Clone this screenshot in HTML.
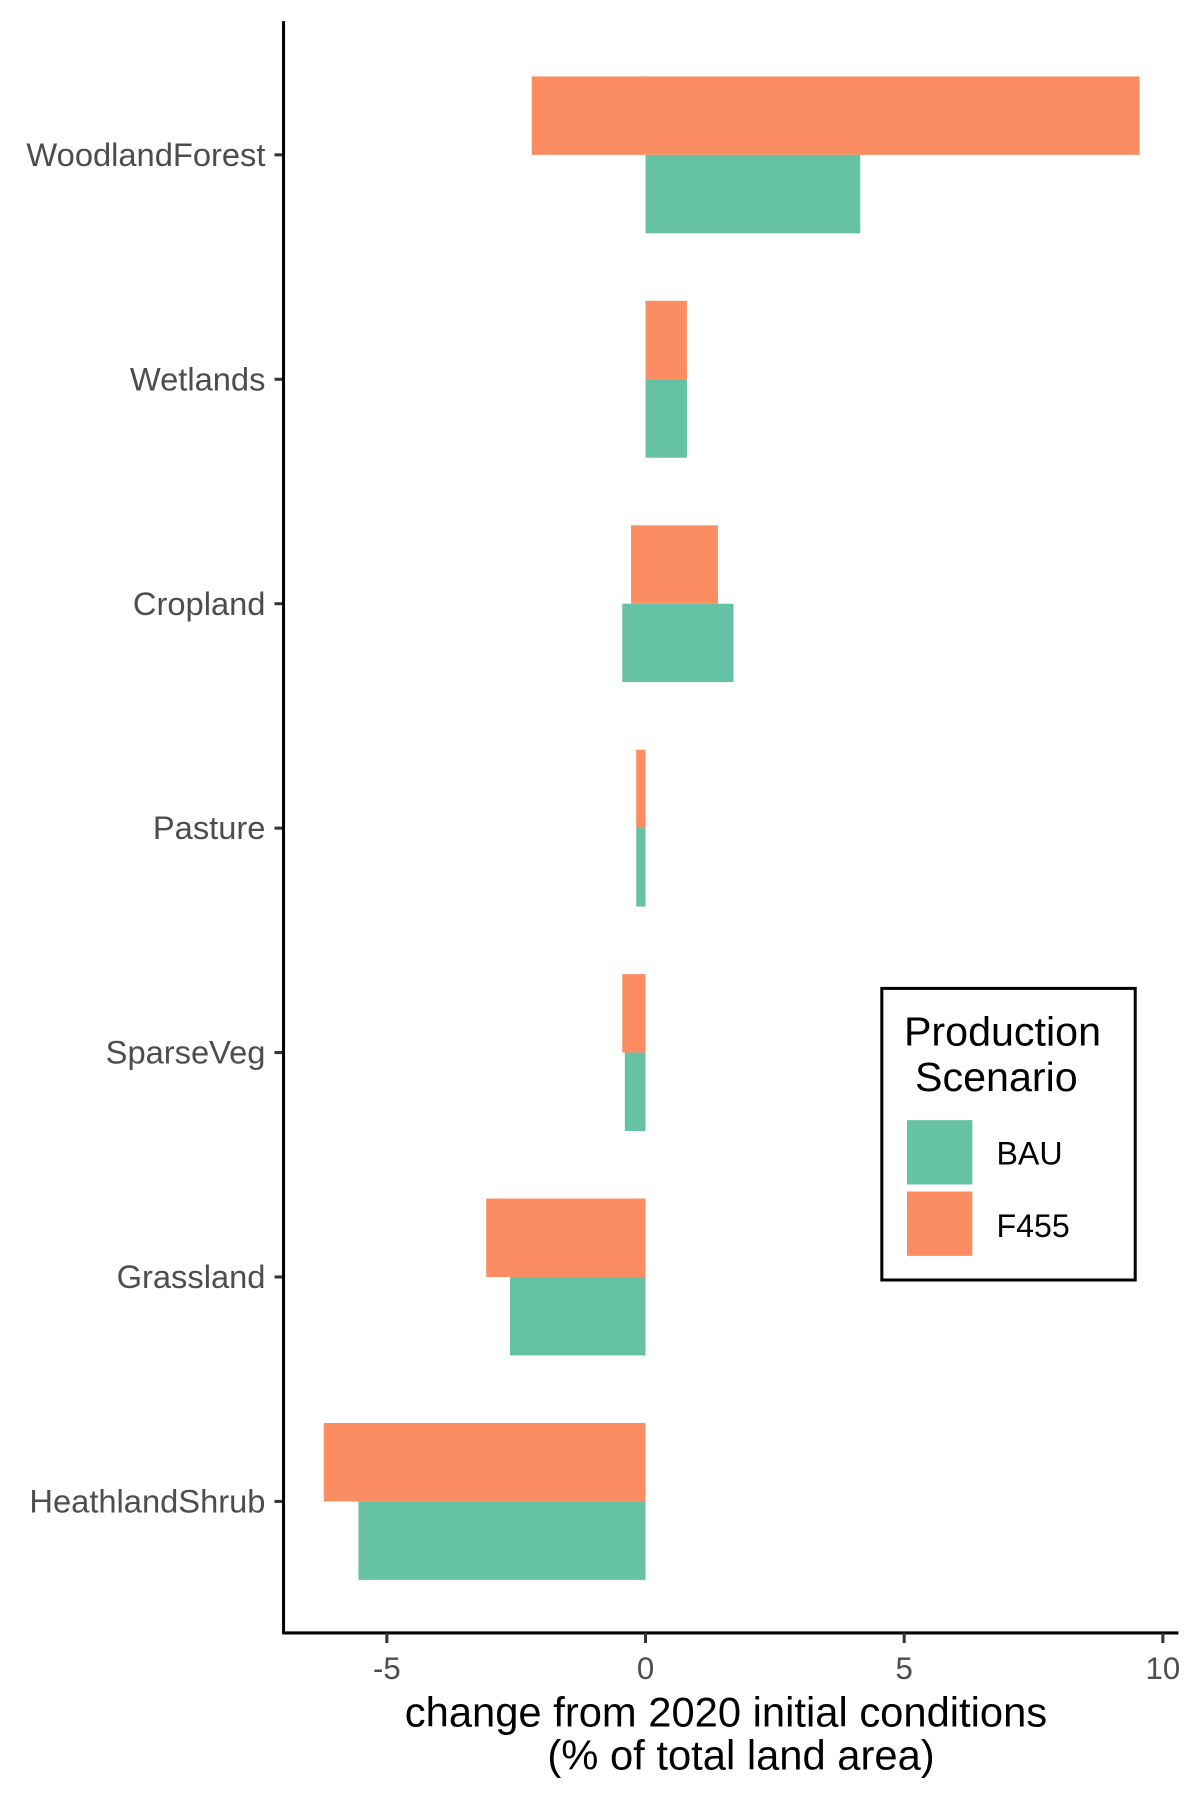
<!DOCTYPE html>
<html><head><meta charset="utf-8"><style>
body{margin:0;background:#fff}
svg{display:block;font-family:"Liberation Sans",sans-serif}
</style></head><body>
<svg id="chart" width="1200" height="1800" viewBox="0 0 1200 1800">
<g transform="scale(1.0055)">
<g id="bars"></g>
<g id="axes"></g>
<g>
<rect x="877" y="983" width="252" height="290" fill="#fff" stroke="#000" stroke-width="3"/>
<text x="899" y="1040" font-size="41" fill="#000">Production</text>
<text x="910" y="1085" font-size="41" fill="#000">Scenario</text>
<rect x="902" y="1114" width="65" height="64" fill="#66c2a5"/>
<text x="991" y="1158" font-size="32" fill="#000">BAU</text>
<rect x="902" y="1185" width="65" height="64" fill="#fc8d62"/>
<text x="991" y="1230" font-size="32" fill="#000">F455</text>
</g>
<text x="722" y="1717" font-size="41.5" text-anchor="middle" fill="#000">change from 2020 initial conditions</text>
<text x="737" y="1760" font-size="41.5" text-anchor="middle" fill="#000">(% of total land area)</text>
</g>
</svg>
<script>
const categories=["WoodlandForest","Wetlands","Cropland","Pasture","SparseVeg","Grassland","HeathlandShrub"];
const bauPos=[4.15,0.8,1.7,0,0,0,0];
const bauNeg=[0,0,-0.45,-0.18,-0.4,-2.62,-5.55];
const f455Pos=[9.55,0.8,1.4,0,0,0,0];
const f455Neg=[-2.2,0,-0.28,-0.18,-0.45,-3.08,-6.22];
const xTicks=[-5,0,5,10];
const xTickLabels=["-5","0","5","10"];

const NS="http://www.w3.org/2000/svg";
const X0=642, PXU=51.45;
const x=v=>X0+v*PXU;
const y=i=>154+i*223.2;
const H=78;
const bars=document.getElementById('bars');
const axes=document.getElementById('axes');
function mk(tag,attrs,parent){const e=document.createElementNS(NS,tag);for(const k in attrs)e.setAttribute(k,attrs[k]);parent.appendChild(e);return e;}
function bar(v,yTop,color,name){
  if(v===0)return;
  const r=mk('rect',{x:Math.min(x(0),x(v)),y:yTop,width:Math.abs(x(v)-x(0)),height:H,fill:color},bars);
  
  
}
categories.forEach((c,i)=>{
  const k=c.toLowerCase();
  bar(f455Neg[i],y(i)-H,'#fc8d62','bar-f455-neg-'+k);
  bar(f455Pos[i],y(i)-H,'#fc8d62','bar-f455-pos-'+k);
  bar(bauNeg[i],y(i),'#66c2a5','bar-bau-neg-'+k);
  bar(bauPos[i],y(i),'#66c2a5','bar-bau-pos-'+k);
  const t=mk('line',{x1:273,x2:282,y1:y(i),y2:y(i),stroke:'#333','stroke-width':3},axes);
  
  
  const l=mk('text',{x:264,y:y(i)+11,'font-size':32.5,'text-anchor':'end',fill:'#4d4d4d'},axes);
  l.textContent=c;
  
  
});
const ya=mk('line',{x1:282,x2:282,y1:21,y2:1625,stroke:'#000','stroke-width':3},axes);


const xa=mk('line',{x1:281,x2:1172,y1:1624,y2:1624,stroke:'#000','stroke-width':3},axes);


xTicks.forEach((v,i)=>{
  const t=mk('line',{x1:x(v),x2:x(v),y1:1624,y2:1634,stroke:'#333','stroke-width':3},axes);
  
  
  const l=mk('text',{x:x(v),y:1670,'font-size':31,'text-anchor':'middle',fill:'#4d4d4d'},axes);
  l.textContent=xTickLabels[i];
  
  
});
</script>
</body></html>
